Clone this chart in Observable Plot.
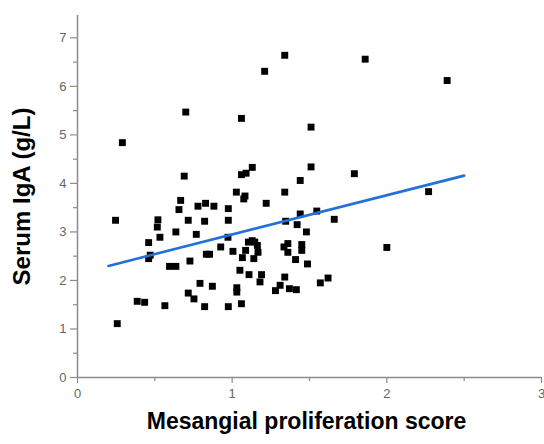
<!DOCTYPE html>
<html>
<head>
<meta charset="utf-8">
<script src="https://cdn.jsdelivr.net/npm/d3@7"></script>
<script src="https://cdn.jsdelivr.net/npm/@observablehq/plot@0.6"></script>
<style>
  html, body { margin: 0; padding: 0; background: #fff; }
  #chart svg { display: block; }
</style>
</head>
<body>
<div id="chart"></div>
<script>
const xTitle = "Mesangial proliferation score";
const yTitle = "Serum IgA (g/L)";

const scoreX = [
  0.246, 0.257, 0.29, 0.386, 0.434, 0.46, 0.46, 0.47, 0.516, 0.52,
  0.533, 0.565, 0.595, 0.636, 0.636, 0.656, 0.667, 0.69, 0.70, 0.716,
  0.716, 0.727, 0.753, 0.768, 0.779, 0.792, 0.822, 0.822, 0.828, 0.833,
  0.854, 0.872, 0.882, 0.926, 0.975, 0.975, 0.973, 0.975, 1.005, 1.027,
  1.03, 1.03, 1.05, 1.06, 1.066, 1.06, 1.06, 1.09, 1.13, 1.075,
  1.083, 1.087, 1.105, 1.109, 1.13, 1.14, 1.146, 1.163, 1.167, 1.18,
  1.19, 1.21, 1.22, 1.28, 1.31, 1.34, 1.335, 1.346, 1.34, 1.34,
  1.36, 1.36, 1.37, 1.41, 1.415, 1.42, 1.44, 1.44, 1.45, 1.45,
  1.48, 1.487, 1.51, 1.51, 1.547, 1.57, 1.62, 1.66, 1.79, 1.86,
  2.0, 2.27, 2.39
];
const igaY = [
  3.24, 1.11, 4.84, 1.57, 1.55, 2.78, 2.45, 2.52, 3.10, 3.25,
  2.89, 1.48, 2.29, 2.29, 3.00, 3.46, 3.65, 4.15, 5.47, 3.24,
  1.74, 2.40, 1.62, 2.95, 3.53, 1.94, 3.22, 1.46, 3.59, 2.54,
  2.54, 1.88, 3.53, 2.69, 3.48, 3.24, 2.89, 1.46, 2.60, 3.82,
  1.85, 1.76, 2.21, 1.52, 2.47, 5.34, 4.18, 4.21, 4.33, 3.68,
  3.74, 2.62, 2.79, 2.12, 2.82, 2.45, 2.79, 2.72, 2.58, 1.97,
  2.12, 6.31, 3.59, 1.79, 1.90, 2.07, 2.69, 3.22, 3.82, 6.64,
  2.76, 2.58, 1.83, 2.43, 1.81, 3.15, 3.37, 4.06, 2.74, 2.62,
  3.00, 2.34, 5.16, 4.34, 3.43, 1.95, 2.05, 3.26, 4.20, 6.56,
  2.68, 3.83, 6.12
];

const fitX = [0.2, 2.5];
const fitY = [2.3, 4.16];

const xMajor = [0, 1, 2, 3];
const xMinor = [0.5, 1.5, 2.5];
const yMajor = [0, 1, 2, 3, 4, 5, 6, 7];
const yMinor = [0.5, 1.5, 2.5, 3.5, 4.5, 5.5, 6.5];

const points = scoreX.map((x, i) => ({x, y: igaY[i]}));
const fit = fitX.map((x, i) => ({x, y: fitY[i]}));

const axisColor = "#8c8c8c";
const labelColor = "#666";

const chart = Plot.plot({
  width: 544,
  height: 444,
  marginLeft: 77,
  marginRight: 3,
  marginTop: 15,
  marginBottom: 67,
  style: {fontFamily: "'Liberation Sans', Arial, sans-serif", background: "#fff"},
  x: {domain: [0, 3]},
  y: {domain: [0, 7.46]},
  marks: [
    Plot.ruleX([0], {stroke: axisColor, strokeWidth: 1.5}),
    Plot.ruleY([0], {stroke: axisColor, strokeWidth: 1.5}),
    Plot.axisY({ticks: yMinor, tickSize: 4, tickFormat: () => "", stroke: axisColor, strokeWidth: 1.2, label: null}),
    Plot.axisY({ticks: yMajor, tickSize: 7, tickPadding: 4, tickFormat: d => String(d), stroke: axisColor, strokeWidth: 1.2, fill: labelColor, fontSize: 13, label: null}),
    Plot.axisX({ticks: xMinor, tickSize: 4, tickFormat: () => "", stroke: axisColor, strokeWidth: 1.2, label: null}),
    Plot.axisX({ticks: xMajor, tickSize: 6, tickPadding: 5, tickFormat: d => String(d), stroke: axisColor, strokeWidth: 1.2, fill: labelColor, fontSize: 13, label: null}),
    Plot.dot(points, {x: "x", y: "y", symbol: "square", r: 3.9, fill: "#000", stroke: "none"}),
    Plot.line(fit, {x: "x", y: "y", stroke: "#2370d9", strokeWidth: 2.6}),
    Plot.text([yTitle], {frameAnchor: "left", textAnchor: "middle", dx: -55, rotate: -90, fontSize: 24, fontWeight: "bold", fill: "#000"}),
    Plot.text([xTitle], {frameAnchor: "bottom", textAnchor: "middle", dx: -3, dy: 51, fontSize: 23, fontWeight: "bold", fill: "#000"})
  ]
});
document.getElementById("chart").appendChild(chart);
</script>
</body>
</html>
